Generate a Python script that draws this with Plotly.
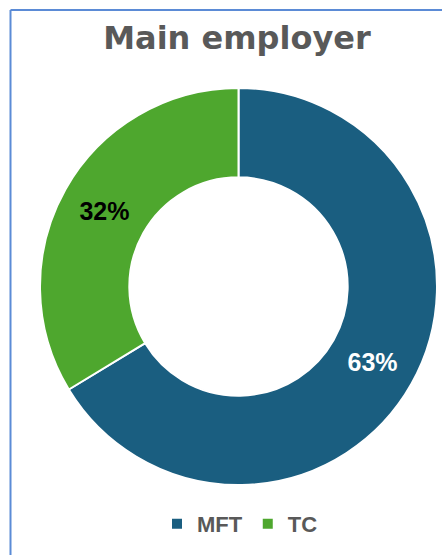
import plotly.graph_objects as go

# Employer breakdown (percent of respondents)
categories = ["MFT", "TC"]
values = [63, 32]
colors = ["#1a5e80", "#4ea72e"]
label_colors = ["#ffffff", "#000000"]

W, H = 442, 555

fig = go.Figure(
    go.Pie(
        labels=categories,
        values=values,
        hole=0.55,
        sort=False,
        direction="clockwise",
        rotation=0,
        marker=dict(colors=colors, line=dict(color="#ffffff", width=2)),
        texttemplate="%{value}%",
        textposition="inside",
        insidetextorientation="horizontal",
        textfont=dict(family="Liberation Sans", size=25, color=label_colors, weight="bold"),
        hoverinfo="label+value",
        domain=dict(x=[39 / W, 438 / W], y=[1 - 485 / H, 1 - 88 / H]),
    )
)

# Chart-area frame: left and top edges
frame = "#5b8bd6"
fig.add_shape(type="line", xref="paper", yref="paper",
              x0=10.5 / W, x1=10.5 / W, y0=0, y1=1 - 10 / H,
              line=dict(color=frame, width=2))
fig.add_shape(type="line", xref="paper", yref="paper",
              x0=10.5 / W, x1=1, y0=1 - 10 / H, y1=1 - 10 / H,
              line=dict(color=frame, width=2))

fig.update_layout(
    width=W,
    height=H,
    margin=dict(l=0, r=0, t=0, b=0),
    paper_bgcolor="#ffffff",
    plot_bgcolor="#ffffff",
    title=dict(
        text="Main employer",
        x=237 / W,
        xanchor="center",
        y=1 - 38 / H,
        yanchor="middle",
        font=dict(family="DejaVu Sans", size=32, color="#595959", weight="bold"),
    ),
    showlegend=True,
    legend=dict(
        orientation="h",
        x=240 / W,
        xanchor="center",
        y=1 - 524 / H,
        yanchor="middle",
        font=dict(family="Liberation Sans", size=22, color="#595959", weight="bold"),
        itemwidth=30,
        traceorder="normal",
    ),
)

fig.write_html("out.html")
